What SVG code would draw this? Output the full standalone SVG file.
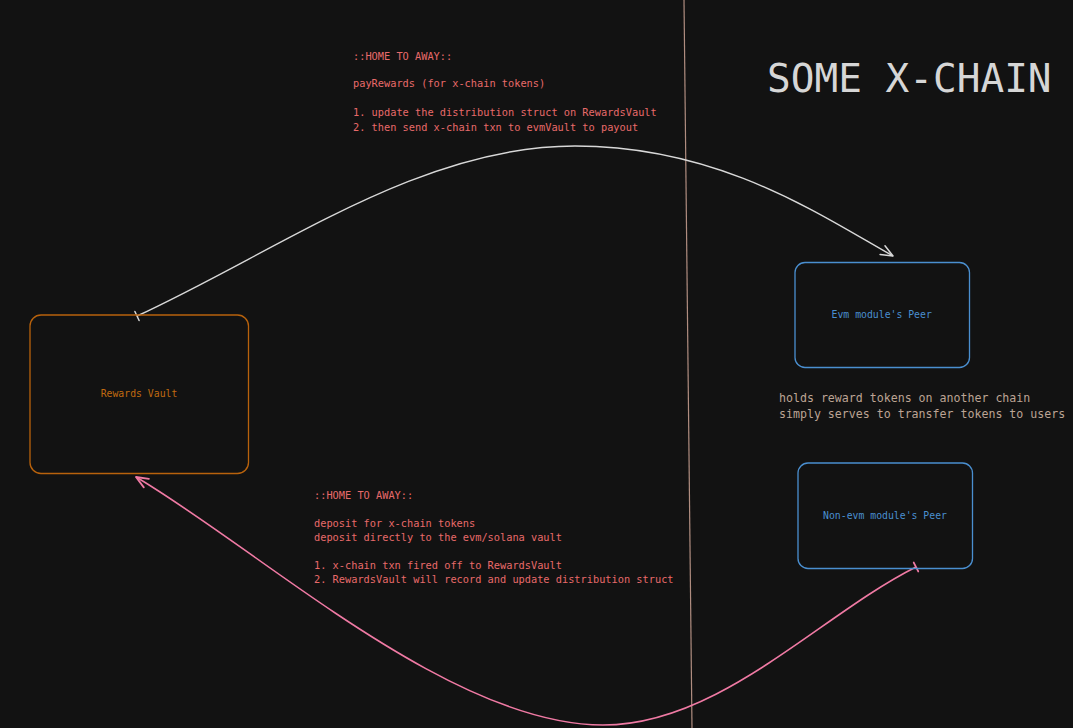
<svg xmlns="http://www.w3.org/2000/svg" width="1073" height="728" viewBox="0 0 1073 728">
<style>
  .mono { font-family: "DejaVu Sans Mono", "Liberation Mono", monospace; }
  .note { fill: #e86a6a; font-size: 10.3px; }
  .note2 { fill: #e86a6a; font-size: 10.3px; }
  .side { fill: #bca494; font-size: 11.6px; }
  .title { fill: #d6d6d6; font-size: 39.4px; }
  .lbl { font-size: 9.8px; text-anchor: middle; }
  .box { fill: none; stroke-width: 1.3; }
</style>
<defs>
  <marker id="arrW" markerUnits="userSpaceOnUse" viewBox="-14 -8 16 16" refX="0" refY="0" markerWidth="16" markerHeight="16" orient="auto">
    <path d="M-12,-5 L0,0 L-12,5" fill="none" stroke="#d8d8d8" stroke-width="1.5" stroke-linecap="round" stroke-linejoin="round"/>
  </marker>
  <marker id="barW" markerUnits="userSpaceOnUse" viewBox="-8 -8 16 16" refX="0" refY="0" markerWidth="16" markerHeight="16" orient="auto">
    <path d="M0,-5 L0,5" stroke="#d8d8d8" stroke-width="1.5" stroke-linecap="round"/>
  </marker>
  <marker id="arrP" markerUnits="userSpaceOnUse" viewBox="-14 -8 16 16" refX="0" refY="0" markerWidth="16" markerHeight="16" orient="auto">
    <path d="M-12,-5 L0,0 L-12,5" fill="none" stroke="#f07aa4" stroke-width="1.8" stroke-linecap="round" stroke-linejoin="round"/>
  </marker>
  <marker id="barP" markerUnits="userSpaceOnUse" viewBox="-8 -8 16 16" refX="0" refY="0" markerWidth="16" markerHeight="16" orient="auto">
    <path d="M0,-5 L0,5" stroke="#f07aa4" stroke-width="1.8" stroke-linecap="round"/>
  </marker>
</defs>
<rect x="0" y="0" width="1073" height="728" fill="#121212"/>

<line x1="684" y1="0" x2="692" y2="728" stroke="#b08d80" stroke-width="1.2"/>

<g id="connectors" fill="none">
  <path d="M137,316 C280,250 420,146 575,146 C720,146 820,215 893,256" stroke="#d8d8d8" stroke-width="1.4" marker-start="url(#barW)" marker-end="url(#arrW)"/>
  <path d="M916,567 C820,615 720,725 603,725 C450,725 260,550 136,477" stroke="#f07aa4" stroke-width="1.6" marker-start="url(#barP)" marker-end="url(#arrP)"/>
</g>

<g id="rewards-vault">
  <rect class="box" x="30" y="315" width="218.5" height="158.5" rx="11" stroke="#b8620c"/>
  <text class="mono lbl" x="139" y="396.5" fill="#c06a10">Rewards Vault</text>
</g>

<g id="evm-peer">
  <rect class="box" x="795" y="262.5" width="174.5" height="105" rx="10" stroke="#4a8fd0"/>
  <text class="mono lbl" x="881.7" y="317.8" fill="#4a8fd0">Evm module's Peer</text>
</g>

<g id="nonevm-peer">
  <rect class="box" x="798" y="463" width="174.5" height="105.5" rx="10" stroke="#4a8fd0"/>
  <text class="mono lbl" x="885" y="518.5" fill="#4a8fd0">Non-evm module's Peer</text>
</g>

<g id="top-note" class="mono note">
  <text x="353" y="59.5">::HOME TO AWAY::</text>
  <text x="353" y="87">payRewards (for x-chain tokens)</text>
  <text x="353" y="115.5">1. update the distribution struct on RewardsVault</text>
  <text x="353" y="130.5">2. then send x-chain txn to evmVault to payout</text>
</g>

<g id="bottom-note" class="mono note2">
  <text x="314" y="498.5">::HOME TO AWAY::</text>
  <text x="314" y="526.5">deposit for x-chain tokens</text>
  <text x="314" y="540.5">deposit directly to the evm/solana vault</text>
  <text x="314" y="568.5">1. x-chain txn fired off to RewardsVault</text>
  <text x="314" y="582.5">2. RewardsVault will record and update distribution struct</text>
</g>

<g id="side-note" class="mono side">
  <text x="779" y="402">holds reward tokens on another chain</text>
  <text x="779" y="418">simply serves to transfer tokens to users</text>
</g>

<text id="title" class="mono title" x="767" y="92">SOME X-CHAIN</text>
</svg>
